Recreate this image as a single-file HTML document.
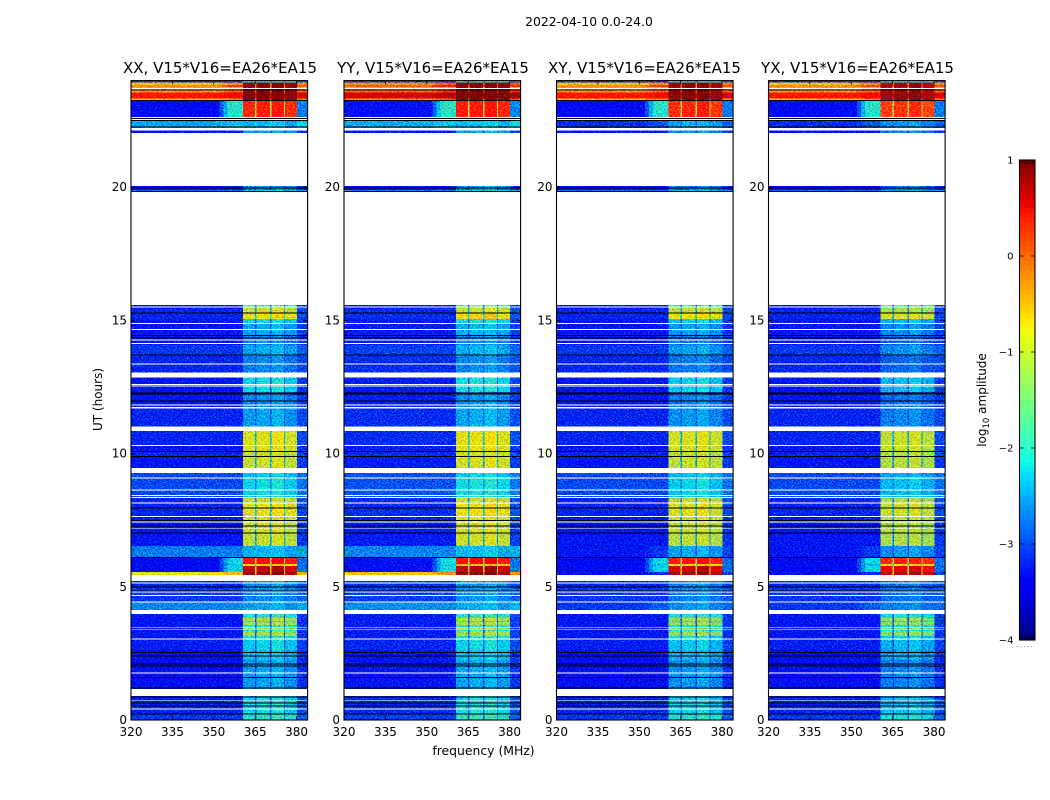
<!DOCTYPE html>
<html lang="en">
<head>
<meta charset="utf-8">
<title>2022-04-10 dynamic spectra</title>
<style>
html,body{margin:0;padding:0;background:#fff;}
svg{display:block;font-family:"DejaVu Sans","Liberation Sans",sans-serif;fill:#000;}
</style>
</head>
<body>
<svg id="fig" xmlns="http://www.w3.org/2000/svg" width="1050" height="800" viewBox="0 0 1050 800">
  <defs>
    <filter id="speckle" filterUnits="userSpaceOnUse" x="120" y="70" width="840" height="660" color-interpolation-filters="sRGB">
      <feTurbulence type="fractalNoise" baseFrequency="0.62 0.75" numOctaves="2" seed="7" result="n"/>
      <feColorMatrix in="n" type="matrix" values="0 0 0 0 .567  1 0 0 0 0  0 .6 0 0 .25  0 0 0 0 1" result="m"/>
      <feComposite in="SourceGraphic" in2="m" operator="arithmetic" k1="0" k2="1" k3="1.5" k4="-0.85" result="s"/>
      <feComposite in="s" in2="SourceAlpha" operator="in"/>
    </filter>
  </defs>
  <text x="589" y="26" font-size="12.4" text-anchor="middle">2022-04-10 0.0-24.0</text>
  <text x="0" y="0" font-size="12" text-anchor="middle" transform="translate(102,399.5) rotate(-90)">UT (hours)</text>
  <text x="483.5" y="755" font-size="12.4" text-anchor="middle">frequency (MHz)</text>
  <text x="0" y="0" font-size="12" text-anchor="middle" transform="translate(986,400) rotate(-90)">log<tspan font-size="8.5" dy="3">10</tspan><tspan dy="-3"> amplitude</tspan></text>
  <g id="panels"></g>
  <g id="cbar"></g>
</svg>
<script>
// ---- chart data ----
const panelTitles = ['XX, V15*V16=EA26*EA15','YY, V15*V16=EA26*EA15','XY, V15*V16=EA26*EA15','YX, V15*V16=EA26*EA15'];
const xTickValues = [320,335,350,365,380];
const yTickValues = [0,5,10,15,20];
const colorTickValues = [-4,-3,-2,-1,0,1];
const colorTickLabels = ['\u22124','\u22123','\u22122','\u22121','0','1'];

// time rows, log10 amplitude: [utStart, utEnd, background, rfiBlocks, bumpNear355MHz, crossHandBackgroundDelta]
const timeRows = [
 [0,0.23,-3.0,-2.0],[0.23,0.86,-3.1,-2.2],[0.86,1.2,-3.2,-2.4],[1.2,2.26,-3.25,-2.5],
 [2.26,2.63,-3.25,-2.35],[2.63,3.0,-3.15,-2.25],[3.0,3.15,-3.2,-2.1],[3.15,3.34,-3.2,-1.35],
 [3.34,3.42,-3.2,-2.0],[3.42,3.5,-3.2,-1.35],[3.5,3.57,-3.2,-2.0],[3.57,3.68,-3.2,-1.3],
 [3.68,3.72,-3.2,-2.0],[3.72,3.83,-3.2,-1.3],[3.83,3.98,-3.2,-2.0],
 [3.98,4.41,-2.6,-2.5,null,-0.4],[4.41,5.0,-3.0,-2.6],[5.0,5.44,-3.1,-2.6],
 [5.44,5.55,-0.85,0.85,-0.6,-2.4],[5.55,5.78,-3.3,0.7,-2.2],[5.78,5.86,-3.3,-0.7,-2.3],
 [5.86,6.08,-3.3,0.4,-2.2],[6.08,6.53,-2.65,-2.4,null,-0.55],[6.53,7.02,-3.2,-1.1],
 [7.02,7.65,-3.2,-1.05],[7.65,8.15,-3.1,-0.9],[8.15,8.37,-3.1,-1.15],[8.37,9.09,-2.9,-2.2],
 [9.09,9.28,-2.9,-2.3],[9.28,9.46,-3.1,-1.0],[9.46,9.88,-3.2,-1.05],[9.88,10.07,-3.1,-1.1],
 [10.07,10.32,-3.2,-0.95],[10.32,10.85,-3.1,-0.95],[10.85,11.04,-3.1,-2.5],[11.04,11.68,-3.1,-2.5],
 [11.68,12.31,-3.2,-2.6],[12.31,12.85,-3.2,-2.2],[12.85,13.07,-3.1,-2.65],[13.07,13.67,-3.1,-2.65],
 [13.67,14.08,-3.0,-2.45],[14.08,14.42,-3.2,-2.65],[14.42,14.87,-3.2,-2.45],[14.87,15.06,-3.2,-2.2],
 [15.06,15.28,-3.1,-0.8],[15.28,15.47,-3.1,-1.05],[15.47,15.58,-3.3,-1.6],
 [19.83,19.9,-2.7,-2.3],[19.9,19.98,-3.3,-2.7],[19.98,20.05,-3.3,-2.6],
 [22.04,22.12,-3.2,-2.5],[22.23,22.5,-2.45,-2.4,-2.3,-0.6],[22.5,22.64,-3.0,-2.5],
 [22.64,23.25,-3.3,0.25,-2.0],[23.25,23.32,-0.55,1.0,-0.3],[23.32,23.55,0.4,1.0,0.5],
 [23.55,23.6,-0.35,1.0,0],[23.6,23.72,-0.45,0.9,-0.2],[23.72,23.76,-1.9,0.9,-1.5],
 [23.76,23.84,-0.35,1.0,0.1],[23.84,23.92,-0.6,0.95,-0.3],[23.92,24,-3.0,-2.0]
];

// fully flagged (blank) UT ranges
const flaggedRanges = [
 [0.40,0.43],[0.71,0.74],[0.90,1.16],[1.75,1.78],[3.02,3.06],[3.39,3.42],[3.45,3.48],[3.98,4.13],
 [4.41,4.45],[4.66,4.70],[4.79,4.83],[5.13,5.16],[5.22,5.44],[7.16,7.19],[7.42,7.46],[7.62,7.65],
 [8.12,8.16],[8.33,8.37],[8.41,8.44],[8.62,8.66],[9.07,9.11],[9.28,9.46],[10.28,10.32],[10.85,11.01],
 [11.70,11.74],[11.81,11.85],[12.52,12.56],[12.58,12.62],[12.85,13.04],[13.35,13.39],[14.12,14.16],
 [14.24,14.28],[14.63,14.67],[14.87,14.91],[15.49,15.53],[15.58,19.83],[20.05,22.04],[22.12,22.23],
 [22.52,22.56],[22.60,22.64],[23.68,23.72]
];

// zero-amplitude UT instants drawn as thin black lines
const blackLines = [0.23,0.53,0.64,0.86,1.20,1.59,2.03,2.10,2.41,2.53,4.84,4.99,6.10,7.02,7.28,7.48,7.96,9.89,10.07,
 11.98,12.24,12.27,13.70,14.34,14.44,15.28,19.83,19.96,22.25,22.51,22.58,23.26,23.64];

// per-panel polarization offsets
const rfiOffset = [0,0.05,-0.05,-0.15];
const backgroundOffset = [0,0.05,0,0];
const brightBandOffset = [0,0.2,0,0];
const crossHandWeight = [0,0,1,1];

// spectral columns
const freqEdges = [320,352,353.5,355,360.5,365,365.5,370.4,370.9,375.4,375.9,380.2,384];
const columnRole = ['bg','ramp1','ramp2','bump','b0','gap','b1','gap','b2','gap','b3','tail'];
const blockOffset = {b0:0,b1:0.05,b2:0.12,b3:-0.05};

const jetStops = {
 r:[[0,0],[.35,0],[.66,1],[.89,1],[1,.5]],
 g:[[0,0],[.125,0],[.375,1],[.64,1],[.91,0],[1,0]],
 b:[[0,.5],[.11,1],[.34,1],[.65,0],[1,0]]
};

// ---- scales ----
const panelLeft = [131,344,556.5,768.5];
const titleCenter = [220,433,644.5,857.5];
const panelWidth = 176.6;
const plotTop = 80.6, plotBottom = 720;
const freqMin = 320, freqMax = 384, utMax = 24;
function xScale(p,f){return panelLeft[p]+(f-freqMin)/(freqMax-freqMin)*panelWidth;}
function yScale(t){return plotBottom-t/utMax*(plotBottom-plotTop);}
const cbTop = 160, cbBottom = 640, cbLeft = 1019.5, cbRight = 1035;
function cbScale(v){return cbBottom-(v+4)/5*(cbBottom-cbTop);}
function interp(st,n){
  for(let i=1;i<st.length;i++){
    if(n<=st[i][0]) return st[i-1][1]+(n-st[i-1][0])/(st[i][0]-st[i-1][0])*(st[i][1]-st[i-1][1]);
  }
  return st[st.length-1][1];
}
function jet(v){
  const n=Math.max(0,Math.min(1,(v+4)/5));
  const c=x=>Math.round(interp(x,n)*255);
  return 'rgb('+c(jetStops.r)+','+c(jetStops.g)+','+c(jetStops.b)+')';
}
const NS='http://www.w3.org/2000/svg';
function mk(tag,attrs,parent){
  const el=document.createElementNS(NS,tag);
  for(const k in attrs) el.setAttribute(k,attrs[k]);
  parent.appendChild(el);
  return el;
}
function cellLevel(row,role,p){
  const bump0=row[4]==null?row[2]:row[4];
  const cross=(row[5]||0)*crossHandWeight[p];
  let bg=row[2]+backgroundOffset[p]+cross;
  let bump=bump0+backgroundOffset[p];
  if(row[5]&&crossHandWeight[p]) bump=Math.min(bump,bg+0.2);
  if(row[2]>-1){bg+=brightBandOffset[p];bump+=brightBandOffset[p];}
  const rfi=row[3]+rfiOffset[p];
  if(role==='bg') return bg;
  if(role==='ramp1') return bg+(bump-bg)*.35;
  if(role==='ramp2') return bg+(bump-bg)*.7;
  if(role==='bump') return bump;
  if(role==='gap') return Math.max(bg+0.3,rfi-1.4);
  if(role==='tail') return bg+0.2+0.35*(bump-bg);
  return rfi+blockOffset[role];
}

// ---- panels ----
const root=document.getElementById('panels');
panelTitles.forEach(function(title,p){
  const g=mk('g',{},root);
  
  

  const t=mk('text',{x:titleCenter[p],y:73,'font-size':15,'text-anchor':'middle'},g);
  
  
  t.textContent=title;

  const hm=mk('g',{filter:'url(#speckle)','shape-rendering':'crispEdges'},g);
  
  
  timeRows.forEach(function(row){
    columnRole.forEach(function(role,c){
      const x0=xScale(p,freqEdges[c]),x1=xScale(p,freqEdges[c+1]);
      const y0=yScale(row[1]),y1=yScale(row[0]);
      const cell=mk('rect',{x:x0,y:y0,width:x1-x0,height:y1-y0,fill:jet(cellLevel(row,role,p))},hm);
      
      
    });
  });
  flaggedRanges.forEach(function(r){
    const rect=mk('rect',{x:xScale(p,freqMin),y:yScale(r[1]),width:panelWidth,height:yScale(r[0])-yScale(r[1]),fill:'#fff','shape-rendering':'crispEdges'},g);
    
    
  });
  blackLines.forEach(function(u){
    const l=mk('line',{x1:xScale(p,freqMin),x2:xScale(p,freqMax),y1:yScale(u),y2:yScale(u),stroke:'#000','stroke-width':1,'shape-rendering':'crispEdges'},g);
    
    
  });

  const frame=mk('rect',{x:xScale(p,freqMin),y:plotTop,width:panelWidth,height:plotBottom-plotTop,fill:'none',stroke:'#000','stroke-width':1.1},g);
  
  

  xTickValues.forEach(function(f){
    const x=xScale(p,f);
    const a=mk('line',{x1:x,x2:x,y1:plotBottom,y2:plotBottom-4,stroke:'#000','stroke-width':.8},g);
    
    
    const b=mk('line',{x1:x,x2:x,y1:plotTop,y2:plotTop+4,stroke:'#000','stroke-width':.8},g);
    
    
    const lab=mk('text',{x:x,y:736,'font-size':12,'text-anchor':'middle'},g);
    
    
    lab.textContent=f;
  });
  yTickValues.forEach(function(u){
    const y=yScale(u),xl=xScale(p,freqMin),xr=xScale(p,freqMax);
    const a=mk('line',{x1:xl,x2:xl+4,y1:y,y2:y,stroke:'#000','stroke-width':.8},g);
    
    
    const b=mk('line',{x1:xr,x2:xr-4,y1:y,y2:y,stroke:'#000','stroke-width':.8},g);
    
    
    const lab=mk('text',{x:xl-4,y:y+4,'font-size':12,'text-anchor':'end'},g);
    
    
    lab.textContent=u;
  });
});

// ---- colorbar ----
const cb=document.getElementById('cbar');
for(let i=0;i<100;i++){
  const v=-4+i*0.05;
  const y0=cbScale(v+0.05),y1=cbScale(v);
  const c=mk('rect',{x:cbLeft,y:y0,width:cbRight-cbLeft,height:y1-y0,fill:jet(v+0.025),'shape-rendering':'crispEdges'},cb);
  
  
}
const cf=mk('rect',{x:cbLeft,y:cbTop,width:cbRight-cbLeft,height:cbBottom-cbTop,fill:'none',stroke:'#000','stroke-width':1.1},cb);


colorTickValues.forEach(function(v,i){
  const y=cbScale(v);
  const a=mk('line',{x1:cbLeft,x2:cbLeft+4,y1:y,y2:y,stroke:'#000','stroke-width':.8},cb);
  
  
  const b=mk('line',{x1:cbRight,x2:cbRight-4,y1:y,y2:y,stroke:'#000','stroke-width':.8},cb);
  
  
  const lab=mk('text',{x:1013.5,y:y+3.5,'font-size':10,'text-anchor':'end'},cb);
  
  
  lab.textContent=colorTickLabels[i];
});
[0,1].forEach(function(end){
  const y=end?cbTop:cbBottom,d=end?1:-1;
  [3,5.5,8,10.5,13].forEach(function(dx){
    const m=mk('line',{x1:cbLeft+dx,x2:cbLeft+dx,y1:y,y2:y+d*4,stroke:'#000','stroke-width':.8},cb);
    
    
  });
});
const dots=mk('line',{x1:1017,x2:1035,y1:646.5,y2:646.5,stroke:'#999','stroke-width':1,'stroke-dasharray':'1 2.5'},cb);


</script>
</body>
</html>
